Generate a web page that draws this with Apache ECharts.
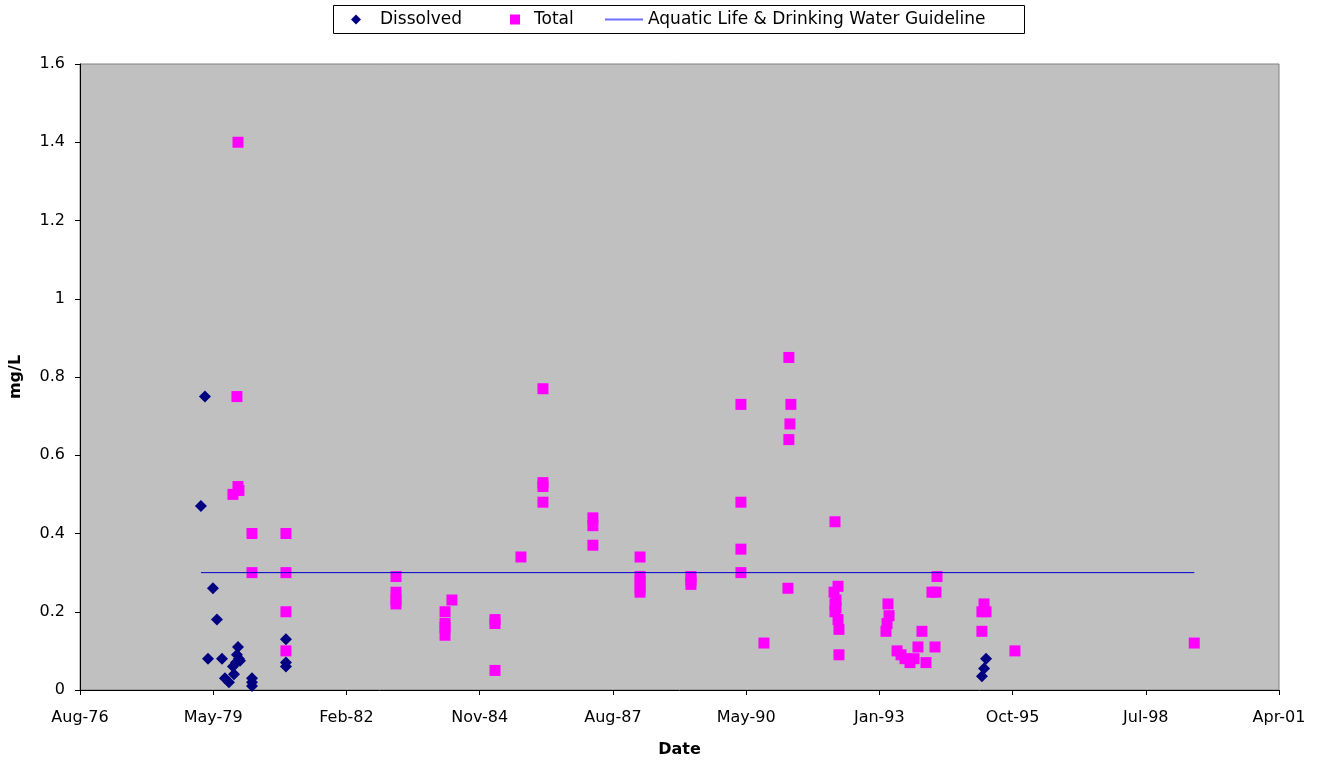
<!DOCTYPE html>
<html>
<head>
<meta charset="utf-8">
<title>Dissolved / Total</title>
<script src="https://cdn.jsdelivr.net/npm/echarts@6/dist/echarts.min.js"></script>
<style>
html,body{margin:0;padding:0;background:#fff;}
#scatterChart{width:1323px;height:761px;}
</style>
</head>
<body>
<div id="scatterChart"></div>
<script>
// dates are Excel day numbers (day 0 = 1899-12-30)
var dissolvedDates = [28908,28938,28961,28998,29028,29066,29088,29118,29148,29156,29171,29178,29193,29186,29201,
	29291,29291,29291,29546,29546,29546,34770,34786,34801];
var dissolvedValues = [0.47,0.75,0.08,0.26,0.18,0.08,0.03,0.02,0.06,0.04,0.07,0.09,0.08,0.11,0.075,
	0.03,0.02,0.01,0.13,0.07,0.06,0.035,0.055,0.08];

var totalDates = [29186,29178,29186,29193,29148,29291,29291,29546,29546,29546,29546,
	30372,30372,30372,30372,30740,30740,30740,30740,30792,
	31115,31115,31115,31310,31475,31475,31475,31475,31850,31850,31850,
	32204,32204,32204,32204,32204,32586,32586,32586,
	32961,32961,32961,32961,33134,33314,33321,33321,33329,33336,
	33660,33667,33667,33667,33675,33675,33690,33690,33697,33697,
	34050,34058,34065,34073,34133,34163,34193,34230,34260,34290,34320,34350,34395,34418,34425,34433,
	34770,34770,34786,34801,35018,36364];
var totalValues = [1.40,0.75,0.52,0.51,0.50,0.40,0.30,0.40,0.30,0.20,0.10,
	0.29,0.25,0.23,0.22,0.20,0.17,0.16,0.14,0.23,
	0.18,0.17,0.05,0.34,0.77,0.53,0.52,0.48,0.44,0.42,0.37,
	0.34,0.29,0.28,0.26,0.25,0.29,0.28,0.27,
	0.73,0.48,0.36,0.30,0.12,0.26,0.85,0.64,0.68,0.73,
	0.25,0.43,0.22,0.20,0.23,0.21,0.265,0.18,0.155,0.09,
	0.15,0.17,0.22,0.19,0.10,0.09,0.08,0.07,0.08,0.11,0.15,0.07,0.25,0.11,0.25,0.29,
	0.20,0.15,0.22,0.20,0.10,0.12];

var guidelineValue = 0.3;
var xTickLabels = ['Aug-76','May-79','Feb-82','Nov-84','Aug-87','May-90','Jan-93','Oct-95','Jul-98','Apr-01'];
var seriesNames = ['Dissolved', 'Total', 'Aquatic Life & Drinking Water Guideline'];

function pairUp(dates, values){
	var out = [];
	for (var i = 0; i < dates.length; i++) {
		out.push([dates[i], values[i]]);
	}
	return out;
}

var allDates = dissolvedDates.concat(totalDates);
var firstDate = Math.min.apply(null, allDates);
var lastDate = Math.max.apply(null, allDates);

var font = 'DejaVu Sans';

// one legend per item so each icon keeps its own size; the box is a plain rect
function legendItem(name, left, w, h, textPad, icon, iconColor){
	var l = {
		left: left,
		top: 11,
		padding: 0,
		itemWidth: w,
		itemHeight: h,
		textStyle: {fontFamily: font, fontSize: 17, color: '#000', padding: [0, 0, 0, textPad]},
		data: [name]
	};
	if (icon) l.icon = icon;
	if (iconColor) l.itemStyle = {color: iconColor};
	return l;
}

var chart = echarts.init(document.getElementById('scatterChart'));
var option = {
	animation: false,
	textStyle: {fontFamily: font, color: '#000'},
	graphic: [{
		type: 'rect',
		z: -1,
		shape: {x: 333.5, y: 5.5, width: 691, height: 28},
		style: {fill: '#fff', stroke: '#000', lineWidth: 1}
	}],
	legend: [
		legendItem(seriesNames[0], 351, 10, 10, 14),
		legendItem(seriesNames[1], 510, 10, 10, 9),
		legendItem(seriesNames[2], 605, 38, 2, 0, 'rect', '#7070ff')
	],
	grid: {
		left: 80,
		right: 44,
		top: 64,
		bottom: 71,
		containLabel: false,
		outerBoundsMode: 'none',
		show: true,
		backgroundColor: '#c0c0c0',
		borderColor: '#808080',
		borderWidth: 1
	},
	xAxis: {
		type: 'value',
		min: 28000,
		max: 37000,
		interval: 1000,
		name: 'Date',
		nameLocation: 'middle',
		nameGap: 52,
		nameTextStyle: {fontFamily: font, fontSize: 16, fontWeight: 'bold', color: '#000'},
		axisLine: {lineStyle: {color: '#000', width: 1}},
		axisTick: {show: true, length: 5, lineStyle: {color: '#000'}},
		axisLabel: {
			fontFamily: font, fontSize: 16, color: '#000', margin: 20,
			formatter: function(v){ return xTickLabels[Math.round((v - 28000) / 1000)]; }
		},
		splitLine: {show: false}
	},
	yAxis: {
		type: 'value',
		min: 0,
		max: 1.6,
		interval: 0.2,
		name: 'mg/L',
		nameLocation: 'middle',
		nameGap: 56,
		nameTextStyle: {fontFamily: font, fontSize: 16, fontWeight: 'bold', color: '#000'},
		axisLine: {show: true, lineStyle: {color: '#000', width: 1}},
		axisTick: {show: true, length: 5, lineStyle: {color: '#000'}},
		axisLabel: {
			fontFamily: font, fontSize: 16, color: '#000', margin: 15,
			formatter: function(v){ return String(+v.toFixed(1)); }
		},
		splitLine: {show: false}
	},
	series: [
		{
			name: seriesNames[0],
			type: 'scatter',
			symbol: 'diamond',
			symbolSize: 12,
			itemStyle: {color: '#000080', opacity: 1},
			data: pairUp(dissolvedDates, dissolvedValues)
		},
		{
			name: seriesNames[1],
			type: 'scatter',
			symbol: 'rect',
			symbolSize: 11,
			itemStyle: {color: '#ff00ff', opacity: 1},
			data: pairUp(totalDates, totalValues)
		},
		{
			name: seriesNames[2],
			type: 'line',
			symbol: 'none',
			lineStyle: {color: '#0000cc', width: 1},
			itemStyle: {color: '#0000cc'},
			data: [[firstDate, guidelineValue], [lastDate, guidelineValue]]
		}
	]
};
chart.setOption(option);
</script>
</body>
</html>
